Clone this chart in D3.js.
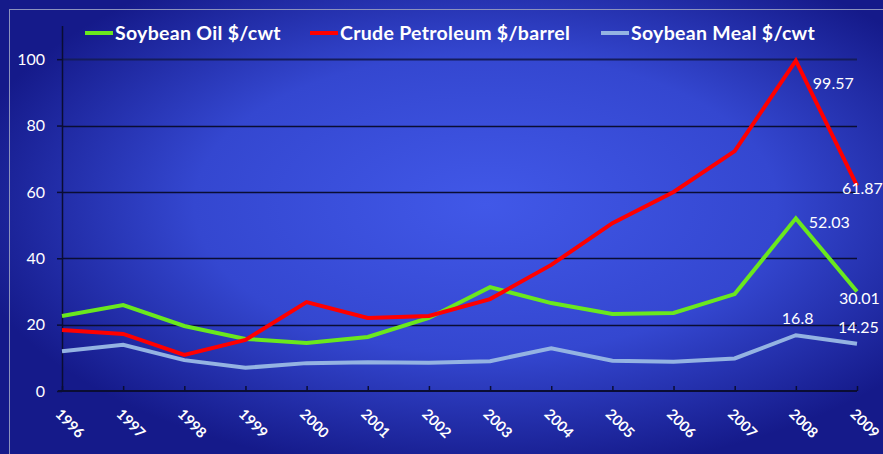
<!DOCTYPE html>
<html>
<head>
<meta charset="utf-8">
<script src="https://cdnjs.cloudflare.com/ajax/libs/d3/7.8.5/d3.min.js"></script>
<style>
  body { margin: 0; padding: 0; overflow: hidden; }
  svg { display: block; }
</style>
</head>
<body>
<div id="chart"></div>
<script>
var years = ["1996", "1997", "1998", "1999", "2000", "2001", "2002", "2003", "2004", "2005", "2006", "2007", "2008", "2009"];
var soyOil = [22.6, 25.9, 19.6, 15.7, 14.5, 16.3, 22.0, 31.3, 26.5, 23.2, 23.5, 29.2, 52.03, 30.01];
var crude = [18.4, 17.2, 10.9, 15.4, 26.8, 22.0, 22.6, 27.7, 38.0, 50.6, 60.0, 72.3, 99.57, 61.87];
var soyMeal = [12.0, 13.9, 9.3, 7.0, 8.4, 8.7, 8.5, 9.0, 12.9, 9.1, 8.8, 9.8, 16.8, 14.25];
var yTicks = [0, 20, 40, 60, 80, 100];

var seriesNames = ["Soybean Oil $/cwt", "Crude Petroleum $/barrel", "Soybean Meal $/cwt"];
var seriesColors = ["#6ae81e", "#ff0000", "#94b3e2"];

var W = 883, H = 454;
var margin = {top: 26, right: 26, bottom: 63, left: 62};

var svg = d3.select("#chart").append("svg")
    .attr("width", W)
    .attr("height", H);

// background
var defs = svg.append("defs");
var grad = defs.append("radialGradient")
    .attr("id", "bg")
    .attr("cx", "0.55").attr("cy", "0.45").attr("r", "0.6");
grad.append("stop").attr("offset", "0%").attr("stop-color", "#4158e8");
grad.append("stop").attr("offset", "55%").attr("stop-color", "#3447d0");
grad.append("stop").attr("offset", "100%").attr("stop-color", "#151a8a");
svg.append("rect").attr("width", W).attr("height", H).attr("fill", "url(#bg)");
svg.append("rect")
    .attr("x", 9.5).attr("y", 9.5)
    .attr("width", W).attr("height", H)
    .attr("fill", "none")
    .attr("stroke", "#8c92bd")
    .attr("stroke-width", 1);

var x = d3.scalePoint()
    .domain(years)
    .range([margin.left, W - margin.right]);

var y = d3.scaleLinear()
    .domain([0, 110])
    .range([H - margin.bottom, margin.top]);

// gridlines
svg.append("g")
    .selectAll("line")
    .data(yTicks.filter(function(d){ return d > 0; }))
    .enter().append("line")
    .attr("x1", margin.left)
    .attr("x2", W - margin.right)
    .attr("y1", function(d){ return Math.round(y(d)) + 0.5; })
    .attr("y2", function(d){ return Math.round(y(d)) + 0.5; })
    .attr("stroke", function(d){ return d === 100 ? "#141c5c" : "#0a0d33"; })
    .attr("stroke-width", function(d){ return d === 100 ? 2 : 1.3; });

// y axis
var yAxis = svg.append("g")
    .attr("transform", "translate(" + margin.left + ",0)")
    .call(d3.axisLeft(y).tickValues(yTicks).tickSize(5).tickPadding(12));
yAxis.select(".domain").remove();
yAxis.append("line")
    .attr("x1", 0.5).attr("x2", 0.5)
    .attr("y1", margin.top).attr("y2", y(0))
    .attr("stroke", "#0a0d33").attr("stroke-width", 1.5);
yAxis.selectAll(".tick line").attr("stroke", "#0a0d33").attr("stroke-width", 1.5);
yAxis.selectAll(".tick text")
    .attr("fill", "#ffffff")
    .attr("font-family", "Lato, 'Open Sans', sans-serif")
    .attr("font-size", "16px");

// x axis
var xAxis = svg.append("g")
    .attr("transform", "translate(0," + y(0) + ")")
    .call(d3.axisBottom(x).tickSize(-5).tickSizeOuter(0));
xAxis.select(".domain")
    .attr("d", "M" + (margin.left - 4) + ",0H" + (W - margin.right))
    .attr("stroke", "#0a0d33").attr("stroke-width", 2);
xAxis.selectAll(".tick line").attr("stroke", "#0a0d33").attr("stroke-width", 1.5);
xAxis.selectAll(".tick text")
    .attr("fill", "#ffffff")
    .attr("font-family", "Lato, 'Open Sans', sans-serif")
    .attr("font-size", "14.5px")
    .attr("font-weight", "bold")
    .attr("text-anchor", "start")
    .attr("dy", null)
    .attr("transform", "translate(-6,22) rotate(45)");

// lines
var allSeries = [soyOil, crude, soyMeal];
var line = d3.line()
    .x(function(d, i){ return x(years[i]); })
    .y(function(d){ return y(d); });

var drawOrder = [2, 0, 1];
drawOrder.forEach(function(k){
    svg.append("path")
        .datum(allSeries[k])
        .attr("fill", "none")
        .attr("stroke", seriesColors[k])
        .attr("stroke-width", 4)
        .attr("stroke-linejoin", "miter")
        .attr("d", line);
});

// data labels (last two years)
var labels = [
    {s: 1, i: 12, dx: 17, dy: 28},
    {s: 1, i: 13, dx: -15, dy: 8},
    {s: 0, i: 12, dx: 13, dy: 10},
    {s: 0, i: 13, dx: -18, dy: 13},
    {s: 2, i: 12, dx: -14, dy: -11},
    {s: 2, i: 13, dx: -19, dy: -11}
];
svg.append("g")
    .selectAll("text")
    .data(labels)
    .enter().append("text")
    .attr("x", function(d){ return x(years[d.i]) + d.dx; })
    .attr("y", function(d){ return y(allSeries[d.s][d.i]) + d.dy; })
    .attr("fill", "#ffffff")
    .attr("font-family", "Lato, 'Open Sans', sans-serif")
    .attr("font-size", "16px")
    .text(function(d){ return String(allSeries[d.s][d.i]); });

// legend
var legendX = [85, 310, 601];
var legend = svg.append("g");
seriesNames.forEach(function(name, k){
    var g = legend.append("g").attr("transform", "translate(" + legendX[k] + ",33)");
    g.append("line")
        .attr("x1", 0).attr("x2", 28)
        .attr("stroke", seriesColors[k])
        .attr("stroke-width", 4);
    g.append("text")
        .attr("x", 30)
        .attr("y", 7)
        .attr("fill", "#ffffff")
        .attr("font-family", "Lato, 'Open Sans', sans-serif")
        .attr("font-weight", "bold")
        .attr("font-size", "19.5px")
        .attr("letter-spacing", "0.3px")
        .text(name);
});
</script>
</body>
</html>
